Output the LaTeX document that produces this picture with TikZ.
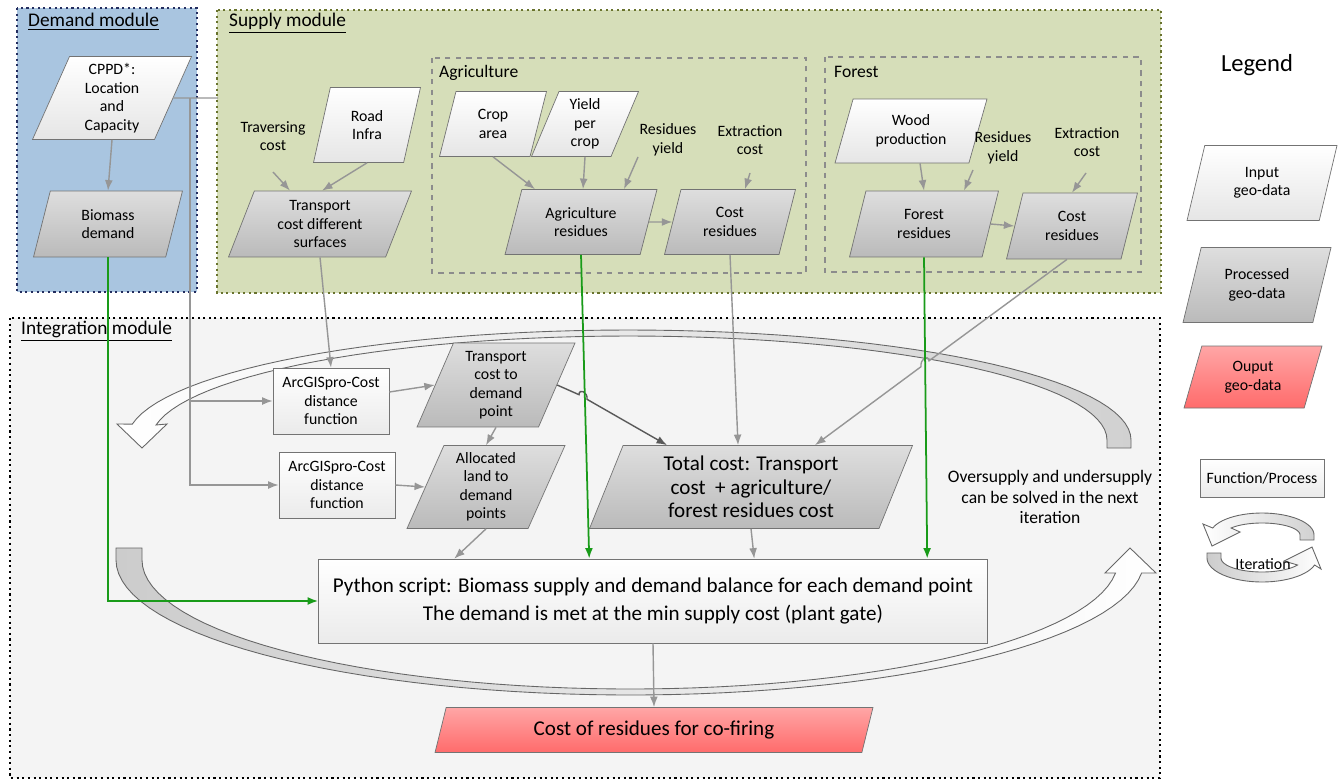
\documentclass[tikz,border=0pt]{standalone}
\usepackage{fontspec}
\setmainfont{Carlito}
\usetikzlibrary{shapes.geometric,arrows.meta}

\definecolor{demandblue}{RGB}{169,197,224}
\definecolor{demandedge}{RGB}{35,45,95}
\definecolor{supplygreen}{RGB}{214,222,185}
\definecolor{supplyedge}{RGB}{105,115,45}
\definecolor{integgray}{RGB}{244,244,244}
\definecolor{linegray}{RGB}{150,150,150}
\definecolor{feedgreen}{RGB}{25,155,25}

\begin{document}
\begin{tikzpicture}[x=0.02cm, y=-0.02cm, font=\fontsize{9}{10.5}\selectfont]
    \tikzstyle{geo} = [trapezium, trapezium left angle=63, trapezium right angle=117, trapezium stretches body, draw=black!55, align=center, inner sep=1pt]
    \tikzstyle{indata} = [geo, top color=white, bottom color=black!10]
    \tikzstyle{procdata} = [geo, top color=black!13, bottom color=black!27]
    \tikzstyle{outdata} = [geo, top color=red!35, bottom color=red!58]
    \tikzstyle{func} = [rectangle, draw=black!55, top color=white, bottom color=black!8, align=center, inner sep=1pt]
    \tikzstyle{note} = [align=center, inner sep=1pt]
    \tikzstyle{module} = [line width=1.2pt, dotted]
    \tikzstyle{group} = [draw=black!45, dashed, line width=0.6pt]
    \tikzstyle{wire} = [draw=linegray, line width=0.8pt]
    \tikzstyle{flow} = [wire, ->, >={Latex[length=6pt,width=4.5pt]}]
    \tikzstyle{feed} = [draw=feedgreen, line width=1pt, ->, >={Latex[length=6pt,width=4.5pt]}]
    \tikzstyle{iter} = [draw=black!60, line width=0.5pt]

    \path[use as bounding box, fill=white] (0,0) rectangle (1341,781);

    % modules
    \draw[module, fill=demandblue, draw=demandedge] (17,8) rectangle (197,292);
    \draw[module, fill=supplygreen, draw=supplyedge] (217,10) rectangle (1161,293);
    \draw[module, fill=integgray, draw=black] (10,318) rectangle (1160,778);
    \node (demtitle) [anchor=west, font=\fontsize{11}{13}\selectfont] at (22,22) {\underline{Demand module}};
    \node (suptitle) [anchor=west, font=\fontsize{11}{13}\selectfont] at (223,23) {\underline{Supply module}};
    \node (inttitle) [anchor=west, font=\fontsize{11}{13}\selectfont] at (15,331) {\underline{Integration module}};
    \draw[group] (432,58) rectangle (806,273);
    \draw[group] (825,57) rectangle (1141,272);
    \node (agrtitle) [anchor=west, font=\fontsize{10}{12}\selectfont] at (433,73) {Agriculture};
    \node (fortitle) [anchor=west, font=\fontsize{10}{12}\selectfont] at (828,72) {Forest};

    % iteration arrows
    \shade[iter, left color=white, right color=black!18] (1131,448) -- (1131,440)
        -- plot[domain=0:171.7, samples=60] ({629+502*cos(\x)},{440-110*sin(\x)})
        -- (117,424) -- (142,448) -- (167,424)
        -- plot[domain=171.7:0, samples=60] ({629+478*cos(\x)},{440-104*sin(\x)})
        -- (1107,448) -- cycle;
    \shade[iter, left color=black!20, right color=white] (116,548) -- (116,560)
        -- plot[domain=180:5.5, samples=60] ({630+514*cos(\x)},{560+135*sin(\x)})
        -- (1156,573) -- (1130,548) -- (1105,573)
        -- plot[domain=5.8:180, samples=60] ({630+488*cos(\x)},{560+129*sin(\x)})
        -- (142,548) -- cycle;

    % demand and supply
    \node (cppd) [indata, minimum width=3.18cm, minimum height=1.66cm] at (112,98) {CPPD*:\\Location\\and\\Capacity};
    \node (biomass) [procdata, minimum width=2.98cm, minimum height=1.32cm] at (108,224) {Biomass\\demand};
    \node (travers) [note] at (273,136) {Traversing\\cost};
    \node (road) [indata, minimum width=2.14cm, minimum height=1.5cm] at (367,125) {Road\\Infra};
    \node (tdiff) [procdata, minimum width=3.66cm, minimum height=1.32cm] at (320,224) {Transport\\cost different\\surfaces};
    \node (crop) [indata, minimum width=2.14cm, minimum height=1.3cm] at (493,124) {Crop\\area};
    \node (yield) [indata, minimum width=2.14cm, minimum height=1.3cm] at (585,124) {Yield\\per\\crop};
    \node (resyagr) [note] at (668,140) {Residues\\yield};
    \node (extagr) [note] at (750,140) {Extraction\\cost};
    \node (agres) [procdata, minimum width=3.04cm, minimum height=1.3cm] at (581,222) {Agriculture\\residues};
    \node (costagr) [procdata, minimum width=2.62cm, minimum height=1.3cm] at (730,222) {Cost\\residues};
    \node (wood) [indata, minimum width=3.04cm, minimum height=1.28cm] at (911,131) {Wood\\production};
    \node (resyfor) [note] at (1003,148) {Residues\\yield};
    \node (extfor) [note] at (1087,142) {Extraction\\cost};
    \node (forres) [procdata, minimum width=2.98cm, minimum height=1.32cm] at (924,224) {Forest\\residues};
    \node (costfor) [procdata, minimum width=2.62cm, minimum height=1.32cm] at (1072,226) {Cost\\residues};

    % integration
    \node (arcgis1) [func, minimum width=2.32cm, minimum height=1.32cm] at (331,401) {ArcGISpro-Cost\\distance\\function};
    \node (arcgis2) [func, minimum width=2.32cm, minimum height=1.32cm] at (337,485) {ArcGISpro-Cost\\distance\\function};
    \node (transdem) [procdata, minimum width=3.16cm, minimum height=1.68cm] at (496,385) {Transport\\cost to\\demand\\point};
    \node (alloc) [procdata, minimum width=3.16cm, minimum height=1.66cm] at (486,487) {Allocated\\land to\\demand\\points};
    \node (total) [procdata, minimum width=6.46cm, minimum height=1.66cm, font=\fontsize{12}{13.5}\selectfont] at (751,487) {Total cost: Transport\\cost~~+ agriculture/\\forest residues cost};
    \node (python) [func, minimum width=13.38cm, minimum height=1.68cm, font=\fontsize{12}{15.5}\selectfont] at (653,601) {Python script: Biomass supply and demand balance for each demand point\\The demand is met at the min supply cost (plant gate)};
    \node (cofiring) [outdata, minimum width=8.76cm, minimum height=0.9cm, font=\fontsize{12}{14}\selectfont] at (654,730) {Cost of residues for co-firing};
    \node (oversup) [note, font=\fontsize{10}{11.6}\selectfont] at (1050,497) {Oversupply and undersupply\\can be solved in the next\\iteration};

    % legend
    \node (legtitle) [font=\fontsize{14}{16}\selectfont] at (1257,65) {Legend};
    \node (leginput) [indata, minimum width=3cm, minimum height=1.5cm] at (1262,183) {Input\\geo-data};
    \node (legproc) [procdata, minimum width=2.96cm, minimum height=1.5cm] at (1257,285) {Processed\\geo-data};
    \node (legout) [outdata, minimum width=2.76cm, minimum height=1.24cm] at (1253,377) {Ouput\\geo-data};
    \node (legfunc) [func, minimum width=2.48cm, minimum height=0.76cm] at (1262,478) {Function/Process};
    \shade[iter, left color=white, right color=black!18] (1314,540) -- (1314,535)
        -- plot[domain=0:161.4, samples=30] ({1262+52*cos(\x)},{535-22*sin(\x)})
        -- (1203,524) -- (1212,546) -- (1240,532)
        -- plot[domain=144.3:0, samples=30] ({1262+38*cos(\x)},{535-12*sin(\x)})
        -- (1300,540) -- cycle;
    \shade[iter, left color=black!20, right color=white] (1207,553) -- (1207,558)
        -- plot[domain=180:17, samples=30] ({1262+55*cos(\x)},{558+24*sin(\x)})
        -- (1321,569) -- (1312,547) -- (1284,561)
        -- plot[domain=30:180, samples=30] ({1262+41*cos(\x)},{558+14*sin(\x)})
        -- (1221,553) -- cycle;
    \node (legiter) at (1263,564) {Iteration};

    % connectors
    \coordinate (split) at (190,98);
    \coordinate (supedge) at (218,98);
    \draw[wire] (cppd.east) -- (supedge);
    \draw[flow] (split) |- (arcgis1.west);
    \draw[flow] (split) |- (arcgis2.west);
    \draw[flow] (cppd.south) -- (biomass.north);
    \draw[flow] ([shift={(0,36)}]travers.center) -- ([shift={(-30,0)}]tdiff.north);
    \draw[flow] (road.south) -- ([shift={(2,0)}]tdiff.north);
    \draw[flow] (tdiff.south) -- (arcgis1.north);
    \draw[flow] (crop.south) -- ([shift={(-46,0)}]agres.north);
    \draw[flow] (yield.south) -- ([shift={(2,0)}]agres.north);
    \draw[flow] ([shift={(-30,17)}]resyagr.center) -- ([shift={(43,0)}]agres.north);
    \draw[flow] ([shift={(0,33)}]extagr.center) -- ([shift={(15,0)}]costagr.north);
    \draw[flow] (agres.east) -- (costagr.west);
    \draw[flow] ([shift={(9,0)}]wood.south) -- (forres.north);
    \draw[flow] ([shift={(-30,22)}]resyfor.center) -- ([shift={(40,0)}]forres.north);
    \draw[flow] ([shift={(-1,31)}]extfor.center) -- (costfor.north);
    \draw[flow] (forres.east) -- (costfor.west);
    \draw[flow] (costagr.south) -- ([shift={(-13,0)}]total.north);
    % line hops over the green feeds
    \draw[flow] ([shift={(-5,0)}]costfor.south) -- (929,360.8) .. controls (928,354) and (920,359) .. (921,366.7) -- ([shift={(64,0)}]total.north);
    \draw[flow] ([shift={(0,-9)}]arcgis1.east) -- (transdem.west);
    \draw[flow] (transdem.south) -- (alloc.north);
    \draw[flow] (arcgis2.east) -- (alloc.west);
    \draw[flow, draw=black!65] (transdem.east) -- (579,394.7) .. controls (579,388) and (588,392) .. (587,399.3) -- ([shift={(-84,0)}]total.north);
    \draw[flow] (alloc.south) -- ([shift={(136,0)}]python.north west);
    \draw[flow] (total.south) -- ([shift={(436,0)}]python.north west);
    \draw[flow] (python.south) -- (cofiring.north);
    \draw[feed] (biomass.south) |- (python.west);
    \draw[feed] (agres.south) -- ([shift={(271,0)}]python.north west);
    \draw[feed] (forres.south) -- ([shift={(609,0)}]python.north west);
\end{tikzpicture}
\end{document}
